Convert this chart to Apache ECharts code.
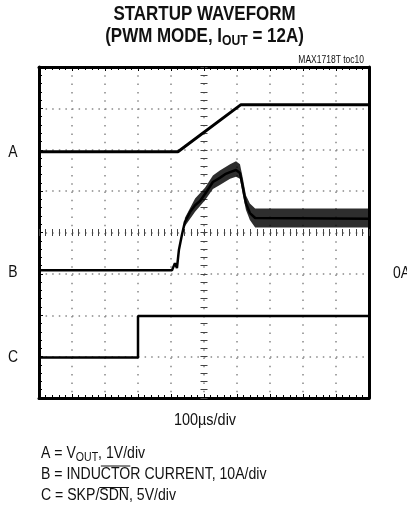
<!DOCTYPE html>
<html><head><meta charset="utf-8">
<script src="https://cdn.jsdelivr.net/npm/echarts@6/dist/echarts.min.js"></script>
<style>html,body{margin:0;padding:0;background:#fff}#c{width:407px;height:508px}</style>
</head><body><div id="c"></div>
<script>
// Values in scope divisions: x 0..10 (100µs/div), y 0..8
const xDivs = [0, 10];
const yDivs = [0, 8];
// Trace A: VOUT
const aX = [0, 4.21, 6.12, 10];
const aY = [5.95, 5.95, 7.09, 7.09];
// Trace B: inductor current (centre of trace)
const bX = [0, 4.03, 4.12, 4.18, 4.24, 4.33, 4.42, 4.58, 4.73, 4.88, 5.03, 5.27, 5.48, 5.64, 5.79, 5.97, 6.09, 6.18, 6.27, 6.39, 6.55, 10];
const bY = [3.09, 3.09, 3.26, 3.14, 3.58, 3.94, 4.25, 4.50, 4.66, 4.76, 4.93, 5.22, 5.32, 5.41, 5.46, 5.51, 5.44, 5.08, 4.71, 4.47, 4.35, 4.33];
// Trace B ripple envelope
const bandX  = [4.42, 4.73, 5.03, 5.27, 5.48, 5.79, 5.97, 6.09, 6.18, 6.27, 6.39, 6.55, 10];
const bandLo = [4.15, 4.50, 4.78, 5.05, 5.15, 5.30, 5.35, 5.30, 4.90, 4.55, 4.30, 4.12, 4.12];
const bandHi = [4.35, 4.82, 5.08, 5.38, 5.50, 5.65, 5.72, 5.65, 5.30, 4.90, 4.70, 4.58, 4.58];
// Trace C: SKP/SDN
const cX = [0, 3.0, 3.0, 10];
const cY = [0.98, 0.98, 1.98, 1.98];
// Texts
const titleLine1 = 'STARTUP WAVEFORM';
const titleParts = ['(PWM MODE, I', 'OUT', ' = 12A)'];
const tocText = 'MAX1718T toc10';
const traceLabels = ['A', 'B', 'C'];
const zeroLabel = '0A';
const timeBase = '100µs/div';
const legA = ['A = V', 'OUT', ', 1V/div'];
const legB = 'B = INDUCTOR CURRENT, 10A/div';
const legC = ['C = SKP/', 'SDN', ', 5V/div'];

const zip = (xs, ys) => xs.map((x, i) => [x, ys[i]]);
const FF = '"Liberation Sans", Arial, sans-serif';
const ctx = document.createElement('canvas').getContext('2d');
function mw(str, size, bold) { ctx.font = (bold ? 'bold ' : '') + size + 'px ' + FF; return ctx.measureText(str).width; }
function txt(x, y, str, size, bold, align, sx) {
  return { type: 'text', x: x, y: y, scaleX: sx, silent: true,
    style: { text: str, x: 0, y: 0, fontSize: size, fontWeight: bold ? 'bold' : 'normal', fontFamily: FF, fill: '#111', align: align, verticalAlign: 'middle' } };
}
function hline(x1, x2, y, w) {
  return { type: 'line', silent: true, shape: { x1: x1, y1: y, x2: x2, y2: y }, style: { stroke: '#111', lineWidth: w } };
}

const graphics = [];
// title
const TS = 19.5, TSX = 0.87, SUBS = 14;
graphics.push(txt(204.5, 15, titleLine1, TS, true, 'center', TSX));
(function () {
  const w1 = mw(titleParts[0], TS, true) * TSX, w2 = mw(titleParts[1], SUBS, true) * TSX, w3 = mw(titleParts[2], TS, true) * TSX;
  let x = 204.5 - (w1 + w2 + w3) / 2;
  graphics.push(txt(x, 37, titleParts[0], TS, true, 'left', TSX)); x += w1;
  graphics.push(txt(x, 41, titleParts[1], SUBS, true, 'left', TSX)); x += w2;
  graphics.push(txt(x, 37, titleParts[2], TS, true, 'left', TSX));
})();
graphics.push(txt(364, 60, tocText, 10, false, 'right', 0.85));
// trace labels
const labY = [152, 272, 357];
traceLabels.forEach((t, i) => graphics.push(txt(13, labY[i], t, 17, false, 'center', 0.82)));
graphics.push(txt(393, 273, zeroLabel, 17, false, 'left', 0.82));
graphics.push(txt(205, 420, timeBase, 17, false, 'center', 0.85));
// legend
const LS = 16, LSX = 0.88, LSUB = 12;
(function () {
  let x = 41;
  const w1 = mw(legA[0], LS) * LSX, w2 = mw(legA[1], LSUB) * LSX;
  graphics.push(txt(x, 454, legA[0], LS, false, 'left', LSX)); x += w1;
  graphics.push(txt(x, 458, legA[1], LSUB, false, 'left', LSX)); x += w2;
  graphics.push(txt(x, 454, legA[2], LS, false, 'left', LSX));
  graphics.push(txt(41, 475, legB, LS, false, 'left', LSX));
  const o1 = 41 + mw('B = INDU', LS) * LSX, o2 = 41 + mw('B = INDUCTO', LS) * LSX;
  graphics.push(hline(o1, o2, 466, 1));
  x = 41;
  const c1 = mw(legC[0], LS) * LSX, c2 = mw(legC[1], LS) * LSX;
  graphics.push(txt(x, 496, legC[0], LS, false, 'left', LSX));
  graphics.push(txt(x + c1, 496, legC[1], LS, false, 'left', LSX));
  graphics.push(hline(x + c1, x + c1 + c2, 487.5, 1));
  graphics.push(txt(x + c1 + c2, 496, legC[2], LS, false, 'left', LSX));
})();

const tickBlack = { color: '#000', width: 1 };
function frameAxis(extra) {
  return Object.assign({
    type: 'value', axisLabel: { show: false },
    axisLine: { show: true, onZero: false, lineStyle: { color: '#000', width: 3 } },
    axisTick: { show: true, inside: true, length: 4, lineStyle: tickBlack },
    minorTick: { show: true, splitNumber: 5, length: 3, lineStyle: tickBlack },
    splitLine: { show: false }
  }, extra);
}
function centerAxis(extra) {
  return Object.assign({
    type: 'value', axisLabel: { show: false },
    axisLine: { show: false, onZero: false },
    axisTick: { show: true, inside: false, length: 7, lineStyle: { color: '#444', width: 1 } },
    minorTick: { show: true, splitNumber: 5, length: 7, lineStyle: { color: '#444', width: 1 } },
    splitLine: { show: false }
  }, extra);
}
const xr = { min: xDivs[0], max: xDivs[1], interval: 1 };
const yr = { min: yDivs[0], max: yDivs[1], interval: 1 };

const chart = echarts.init(document.getElementById('c'), null, { renderer: 'canvas' });
chart.setOption({
  animation: false,
  backgroundColor: '#fff',
  grid: { left: 39, top: 67, width: 330, height: 331, containLabel: false },
  xAxis: [
    frameAxis(Object.assign({ position: 'bottom', splitLine: { show: true, lineStyle: { color: '#888', width: 1.5, type: [1.5, 6.8] } } }, xr)),
    frameAxis(Object.assign({ position: 'top' }, xr)),
    centerAxis(Object.assign({ position: 'bottom', offset: -169 }, xr))
  ],
  yAxis: [
    frameAxis(Object.assign({ position: 'left', splitLine: { show: true, lineStyle: { color: '#888', width: 1.5, type: [1.5, 5.1] } } }, yr)),
    frameAxis(Object.assign({ position: 'right', axisTick: { show: false }, minorTick: { show: false } }, yr)),
    centerAxis(Object.assign({ position: 'left', offset: -168.5 }, yr))
  ],
  series: [
    { type: 'custom', xAxisIndex: 0, yAxisIndex: 0, silent: true, clip: true,
      data: bandX.map((x, i) => [x, bandLo[i], bandHi[i]]),
      encode: { x: 0, y: [1, 2] },
      renderItem: function (params, api) {
        if (params.dataIndex !== 0) return null;
        const pts = [];
        for (let i = 0; i < bandX.length; i++) pts.push(api.coord([bandX[i], bandHi[i]]));
        for (let i = bandX.length - 1; i >= 0; i--) pts.push(api.coord([bandX[i], bandLo[i]]));
        return { type: 'polygon', shape: { points: pts }, style: { fill: 'rgba(0,0,0,0.82)' } };
      } },
    { type: 'line', data: zip(aX, aY), symbol: 'none', silent: true, lineStyle: { color: '#000', width: 3 } },
    { type: 'line', data: zip(bX, bY), symbol: 'none', silent: true, lineStyle: { color: '#000', width: 2.5 } },
    { type: 'line', data: zip(cX, cY), symbol: 'none', silent: true, lineStyle: { color: '#000', width: 2.5 } }
  ],
  graphic: graphics
});
</script></body></html>
